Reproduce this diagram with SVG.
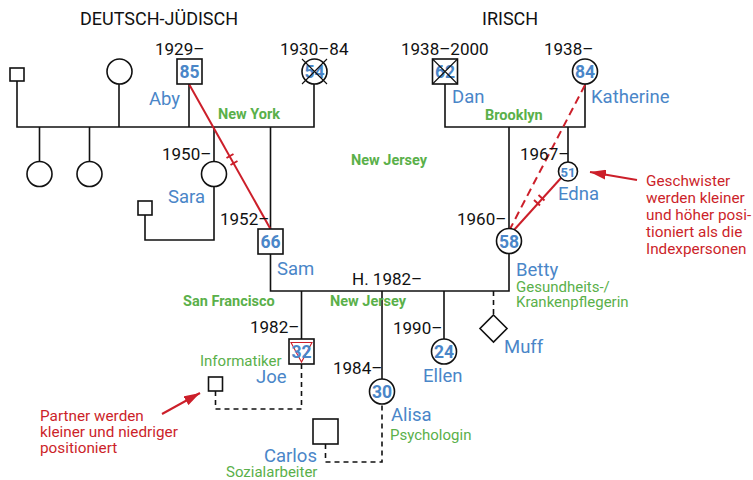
<svg xmlns="http://www.w3.org/2000/svg" width="753" height="480" viewBox="0 0 753 480">
<style>
text{font-family:Roboto,"Liberation Sans",sans-serif}
.t{font-size:18px;fill:#111}
.y{font-size:17px;fill:#111}
.n{font-size:18.5px;fill:#4a86c8}
.num{font-size:17.5px;font-weight:bold;fill:#4a86c8;text-anchor:middle}
.g{font-size:15px;fill:#5ab04a}
.gb{font-size:14.5px;font-weight:bold;fill:#5ab04a}
.r{font-size:15.3px;fill:#cc1f2a}
.ln{stroke:#111;stroke-width:1.6;fill:none}
.ds{stroke:#111;stroke-width:1.6;fill:none;stroke-dasharray:5,4}
.sh{stroke:#111;stroke-width:1.6;fill:#fff}
.x{stroke:#111;stroke-width:1.1}
.red{stroke:#cc1f2a;stroke-width:2;fill:none}
</style>
<defs>
<marker id="ah" viewBox="0 0 16 10" refX="16" refY="5" markerWidth="16" markerHeight="10" markerUnits="userSpaceOnUse" orient="auto">
<path d="M0,0 L16,5 L0,10 Z" fill="#cc1f2a"/>
</marker>
</defs>
<text class="t" x="80" y="25">DEUTSCH-JÜDISCH</text>
<text class="t" x="482" y="25">IRISCH</text>

<g id="connectors">
<path class="ln" d="M17,81 V127 H314 V84"/>
<path class="ln" d="M119,84 V127"/>
<path class="ln" d="M189,84 V127"/>
<path class="ln" d="M39.5,127 V162 M89.5,127 V162"/>
<path class="ln" d="M214,127 V162 M214,186 V240 H145 V215"/>
<path class="ln" d="M270.5,127 V229"/>
<path class="ln" d="M445,84 V127 H585 V84"/>
<path class="ln" d="M509,127 V228"/>
<path class="ln" d="M568,127 V162"/>
<path class="ln" d="M270.5,254 V291 H509 V254"/>
<path class="ln" d="M301.5,291 V339"/>
<path class="ln" d="M382,291 V379"/>
<path class="ln" d="M444,291 V339"/>
<path class="ds" d="M493.5,291 V315"/>
<path class="ds" d="M215.5,391 V409 H301.5 V364"/>
<path class="ds" d="M325.5,444 V462 H382 V404"/>
<path class="red" d="M189,84 L270.5,229"/>
<path class="red" d="M226.5,158 l7,-4 M230.5,165 l7,-4"/>
<path class="red" stroke-dasharray="8,5" d="M585,85 L510,229"/>
<path class="red" d="M561,178 L514,230"/>
<path class="red" d="M534,200 l6,5.4 M538.5,195 l6,5.4"/>
<path class="red" stroke-width="1.8" marker-end="url(#ah)" d="M637,180 L590,172"/>
<path class="red" stroke-width="1.8" marker-end="url(#ah)" d="M162,414 L200,393"/>
</g>

<g id="p-left-sq"><rect class="sh" x="10" y="68" width="14" height="13"/></g>
<g id="p-left-circle"><circle class="sh" cx="119.5" cy="71.5" r="12.5"/></g>
<g id="aby">
<rect class="sh" x="177" y="59" width="25" height="25"/>
<text class="num" x="189.5" y="78">85</text>
<text class="y" x="155" y="55">1929–</text>
<text class="n" x="149" y="105">Aby</text>
</g>
<g id="grandma-de">
<circle class="sh" cx="314.5" cy="71.5" r="12.5"/>
<text class="num" x="314.5" y="78">54</text>
<path class="x" d="M302,59 L327,84 M327,59 L302,84"/>
<text class="y" x="280" y="55">1930–84</text>
</g>
<g id="c1"><circle class="sh" cx="39.5" cy="174" r="12.5"/></g>
<g id="c2"><circle class="sh" cx="89.5" cy="174" r="12.5"/></g>
<g id="sara">
<circle class="sh" cx="214" cy="174" r="12.5"/>
<text class="y" x="162" y="160">1950–</text>
<text class="n" x="168" y="203">Sara</text>
</g>
<g id="sara-partner"><rect class="sh" x="138" y="201" width="14" height="14"/></g>
<g id="sam">
<rect class="sh" x="258" y="229" width="25" height="25"/>
<text class="num" x="270.5" y="248">66</text>
<text class="y" x="220" y="225">1952–</text>
<text class="n" x="277" y="275">Sam</text>
</g>
<g id="dan">
<rect class="sh" x="432.5" y="59" width="25" height="25"/>
<text class="num" x="445" y="78">62</text>
<path class="x" d="M432.5,59 L457.5,84 M457.5,59 L432.5,84"/>
<text class="y" x="401" y="55">1938–2000</text>
<text class="n" x="452" y="103">Dan</text>
</g>
<g id="katherine">
<circle class="sh" cx="585" cy="71.5" r="12.5"/>
<text class="num" x="585" y="78">84</text>
<text class="y" x="544" y="55">1938–</text>
<text class="n" x="591" y="103">Katherine</text>
</g>
<g id="edna">
<circle class="sh" cx="568" cy="171.5" r="9.5"/>
<text class="num" x="568" y="176.5" style="font-size:13px">51</text>
<text class="y" x="520" y="160">1967–</text>
<text class="n" x="558" y="200">Edna</text>
</g>
<g id="betty">
<circle class="sh" cx="509" cy="241" r="12.5"/>
<text class="num" x="509" y="247.5">58</text>
<text class="y" x="457" y="225">1960–</text>
<text class="n" x="516" y="276">Betty</text>
<text class="g" x="516" y="292">Gesundheits-/</text>
<text class="g" x="516" y="307">Krankenpflegerin</text>
</g>
<text class="y" x="352" y="285">H. 1982–</text>
<g id="joe">
<rect class="sh" x="289" y="339" width="25" height="25"/>
<path d="M291,342.5 L312,342.5 L301.5,362 Z" fill="none" stroke="#cc1f2a" stroke-width="1.1"/>
<text class="num" x="301.5" y="358">32</text>
<text class="y" x="250" y="333">1982–</text>
<text class="g" x="200" y="366">Informatiker</text>
<text class="n" x="256" y="383">Joe</text>
</g>
<g id="joe-partner"><rect class="sh" x="208.5" y="377" width="14" height="14"/></g>
<g id="alisa">
<circle class="sh" cx="382" cy="391.5" r="12.5"/>
<text class="num" x="382" y="398">30</text>
<text class="y" x="333" y="374">1984–</text>
<text class="n" x="391" y="421">Alisa</text>
<text class="g" x="390" y="440">Psychologin</text>
</g>
<g id="carlos">
<rect class="sh" x="313" y="419" width="25" height="25"/>
<text class="n" x="264" y="462">Carlos</text>
<text class="g" x="226" y="477">Sozialarbeiter</text>
</g>
<g id="ellen">
<circle class="sh" cx="444" cy="351.5" r="12.5"/>
<text class="num" x="444" y="358">24</text>
<text class="y" x="393" y="334">1990–</text>
<text class="n" x="423" y="382">Ellen</text>
</g>
<g id="muff">
<path class="sh" d="M493.5,315 L507,328.5 L493.5,342 L480,328.5 Z"/>
<text class="n" x="504" y="353">Muff</text>
</g>
<g id="places">
<text class="gb" x="218" y="119">New York</text>
<text class="gb" x="485" y="120">Brooklyn</text>
<text class="gb" x="351" y="165">New Jersey</text>
<text class="gb" x="183" y="306">San Francisco</text>
<text class="gb" x="330" y="306">New Jersey</text>
</g>
<g id="notes">
<text class="r" x="646" y="186">Geschwister</text>
<text class="r" x="646" y="203">werden kleiner</text>
<text class="r" x="646" y="220">und höher posi-</text>
<text class="r" x="646" y="237">tioniert als die</text>
<text class="r" x="646" y="254">Indexpersonen</text>
<text class="r" x="40" y="421">Partner werden</text>
<text class="r" x="40" y="437">kleiner und niedriger</text>
<text class="r" x="40" y="453">positioniert</text>
</g>
</svg>
